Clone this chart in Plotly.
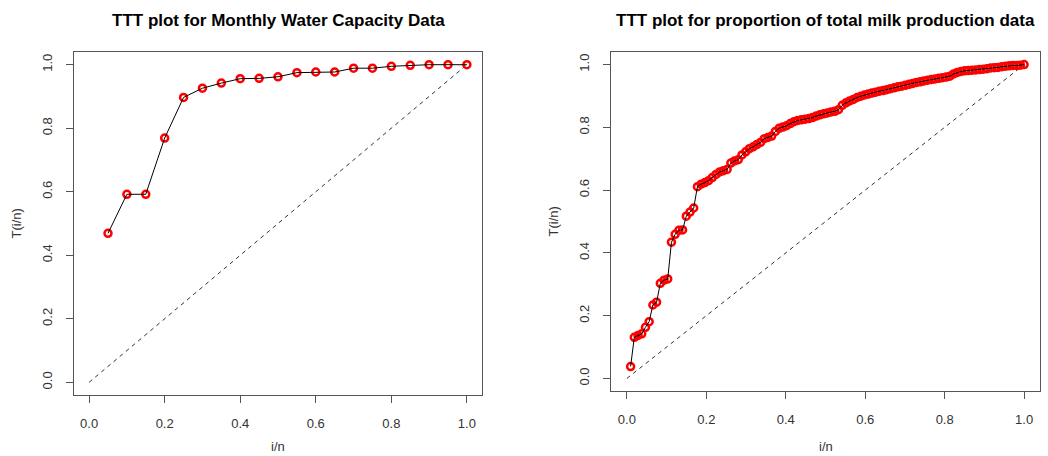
import plotly.graph_objects as go

# ---- Data ----
water_x = [0.05, 0.10, 0.15, 0.20, 0.25, 0.30, 0.35, 0.40, 0.45, 0.50,
           0.55, 0.60, 0.65, 0.70, 0.75, 0.80, 0.85, 0.90, 0.95, 1.00]
water_T = [0.469, 0.592, 0.592, 0.769, 0.897, 0.926, 0.942, 0.956, 0.957, 0.962,
           0.975, 0.977, 0.977, 0.989, 0.989, 0.995, 0.998, 1.000, 1.000, 1.000]

milk_n = 107
milk_T = [0.038, 0.131, 0.137, 0.142, 0.163, 0.181, 0.234, 0.243, 0.303, 0.313,
          0.317, 0.434, 0.459, 0.472, 0.473, 0.517, 0.530, 0.543, 0.611, 0.619,
          0.624, 0.630, 0.640, 0.650, 0.658, 0.662, 0.666, 0.686, 0.693, 0.697,
          0.712, 0.722, 0.732, 0.738, 0.745, 0.752, 0.764, 0.768, 0.772, 0.787,
          0.797, 0.801, 0.805, 0.812, 0.818, 0.822, 0.824, 0.826, 0.828, 0.831,
          0.836, 0.840, 0.843, 0.846, 0.849, 0.851, 0.856, 0.870, 0.878, 0.884,
          0.889, 0.895, 0.899, 0.903, 0.906, 0.909, 0.912, 0.915, 0.917, 0.920,
          0.923, 0.926, 0.929, 0.931, 0.934, 0.937, 0.940, 0.943, 0.945, 0.948,
          0.950, 0.952, 0.954, 0.956, 0.958, 0.960, 0.963, 0.970, 0.975, 0.978,
          0.980, 0.981, 0.982, 0.983, 0.984, 0.985, 0.987, 0.989, 0.990, 0.991,
          0.993, 0.995, 0.996, 0.997, 0.997, 0.998, 1.000]
milk_x = [i / milk_n for i in range(1, milk_n + 1)]

diag = [0.0, 1.0]
tick_vals = [0.0, 0.2, 0.4, 0.6, 0.8, 1.0]
tick_text = ["0.0", "0.2", "0.4", "0.6", "0.8", "1.0"]

titles = ["TTT plot for Monthly Water Capacity Data",
          "TTT plot for proportion of total milk production data"]

W, H = 1048, 456
FONT = "Liberation Sans, Arial, sans-serif"

fig = go.Figure()

panels = [
    dict(x=water_x, y=water_T, xa="x", ya="y"),
    dict(x=milk_x, y=milk_T, xa="x2", ya="y2"),
]
for p in panels:
    fig.add_trace(go.Scatter(x=diag, y=diag, mode="lines", xaxis=p["xa"], yaxis=p["ya"],
                             line=dict(color="#333333", width=1, dash="4px,4px"),
                             hoverinfo="skip", showlegend=False))
    fig.add_trace(go.Scatter(x=p["x"], y=p["y"], mode="markers", xaxis=p["xa"], yaxis=p["ya"],
                             marker=dict(symbol="circle-open", size=7, color="#ff0000",
                                         line=dict(width=2.5, color="#ff0000")),
                             showlegend=False))
    fig.add_trace(go.Scatter(x=p["x"], y=p["y"], mode="lines", xaxis=p["xa"], yaxis=p["ya"],
                             line=dict(color="black", width=1),
                             showlegend=False))

# panel geometry in pixels
left_box = dict(x0=74, x1=482, y0=52, y1=395)
right_box = dict(x0=611, x1=1040, y0=52, y1=391)

def axis_common():
    return dict(range=[-0.04, 1.04], tickvals=tick_vals, ticktext=tick_text,
                ticks="outside", ticklen=7, tickcolor="#555", tickwidth=1,
                showline=True, linecolor="#555", linewidth=1, mirror=True,
                showgrid=False, zeroline=False,
                tickfont=dict(family=FONT, size=13, color="#333"),
                ticklabelstandoff=9)

xa1 = axis_common(); xa1.update(domain=[left_box["x0"] / W, left_box["x1"] / W], anchor="y")
ya1 = axis_common(); ya1.update(domain=[1 - left_box["y1"] / H, 1 - left_box["y0"] / H], anchor="x",
                                tickangle=-90)
xa2 = axis_common(); xa2.update(domain=[right_box["x0"] / W, right_box["x1"] / W], anchor="y2")
ya2 = axis_common(); ya2.update(domain=[1 - right_box["y1"] / H, 1 - right_box["y0"] / H], anchor="x2",
                                tickangle=-90)

annotations = []
for box, title in [(left_box, titles[0]), (right_box, titles[1])]:
    cx = (box["x0"] + box["x1"]) / 2 / W
    cy = 1 - (box["y0"] + box["y1"]) / 2 / H
    annotations.append(dict(text="<b>" + title + "</b>", x=cx, y=1 - 21 / H, xref="paper", yref="paper",
                            xanchor="center", yanchor="middle", showarrow=False,
                            font=dict(family=FONT, size=17, color="black")))
    annotations.append(dict(text="i/n", x=cx, y=1 - 446 / H, xref="paper", yref="paper",
                            xanchor="center", yanchor="middle", showarrow=False,
                            font=dict(family=FONT, size=13, color="#333")))
    annotations.append(dict(text="T(i/n)", x=(box["x0"] - 58) / W, y=cy, xref="paper", yref="paper",
                            xanchor="center", yanchor="middle", showarrow=False, textangle=-90,
                            font=dict(family=FONT, size=13, color="#333")))

fig.update_layout(width=W, height=H, margin=dict(l=0, r=0, t=0, b=0),
                  paper_bgcolor="white", plot_bgcolor="white",
                  xaxis=xa1, yaxis=ya1, xaxis2=xa2, yaxis2=ya2,
                  annotations=annotations, showlegend=False)

fig.write_html("out.html")
